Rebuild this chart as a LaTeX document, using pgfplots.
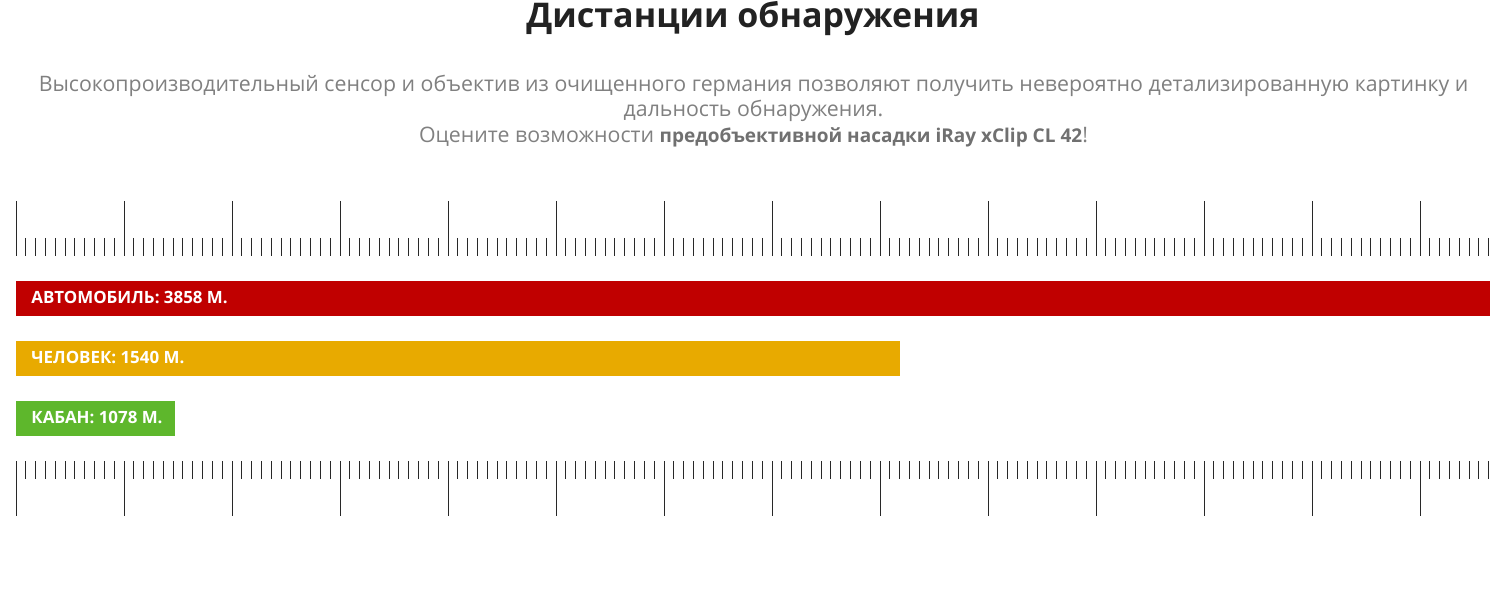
\documentclass[border=0pt]{standalone}
\usepackage{pgfplots}
\pgfplotsset{compat=1.18}
\usepackage{fontspec}
\setmainfont{Open Sans}

\definecolor{barred}{RGB}{192,0,0}
\definecolor{baryellow}{RGB}{232,170,0}
\definecolor{bargreen}{RGB}{94,183,44}
\definecolor{titlegray}{RGB}{34,34,34}
\definecolor{subgray}{RGB}{128,128,128}
\definecolor{subbold}{RGB}{112,112,112}
\definecolor{rulergray}{RGB}{40,40,40}

\begin{document}
\begin{tikzpicture}
\begin{axis}[
    scale only axis,
    width=750.5pt, height=102.5pt,
    xmin=-16, xmax=1485,
    ymin=256, ymax=461,
    y dir=reverse,
    clip=false,
    axis line style={draw=none},
    xtick={0,108,...,1404},
    minor xtick={0,9.81818,...,1474},
    xticklabels={},
    ytick=\empty,
    tick align=outside,
    xtick pos=both,
    major tick length=27.5pt,
    minor tick length=9pt,
    every tick/.style={rulergray, line width=0.5pt},
]
\path (axis cs:-16,0) rectangle (axis cs:1485,592);

% bar lengths along the ruler, from its start
\addplot[xbar, bar width=17.5pt, bar shift=0pt, draw=none, fill=barred]
    coordinates {(1474,298.5)};
\addplot[xbar, bar width=17.5pt, bar shift=0pt, draw=none, fill=baryellow]
    coordinates {(884,358.5)};
\addplot[xbar, bar width=17.5pt, bar shift=0pt, draw=none, fill=bargreen]
    coordinates {(159,418.5)};

\tikzset{barlabel/.style={anchor=base west, inner sep=0pt, text=white,
    font=\bfseries\fontsize{8.45}{10}\selectfont}}
\node[barlabel] at (axis cs:15,303.5) {АВТОМОБИЛЬ: 3858 М.};
\node[barlabel] at (axis cs:15,363.5) {ЧЕЛОВЕК: 1540 М.};
\node[barlabel] at (axis cs:15,423.5) {КАБАН: 1078 М.};

\node[anchor=base, inner sep=0pt, text=titlegray,
    font=\bfseries\fontsize{17}{20}\selectfont] at (axis cs:737,28) {Дистанции обнаружения};

\tikzset{sub/.style={anchor=base, inner sep=0pt, text=subgray,
    font=\fontsize{10.65}{12}\selectfont}}
\node[sub] at (axis cs:737.5,92) {Высокопроизводительный сенсор и объектив из очищенного германия позволяют получить невероятно детализированную картинку и};
\node[sub] at (axis cs:737.5,117) {дальность обнаружения.};
\node[sub] at (axis cs:737.5,143) {Оцените возможности \textcolor{subbold}{\bfseries\fontsize{9.5}{12}\selectfont предобъективной насадки iRay xClip CL 42}!};
\end{axis}
\end{tikzpicture}
\end{document}
